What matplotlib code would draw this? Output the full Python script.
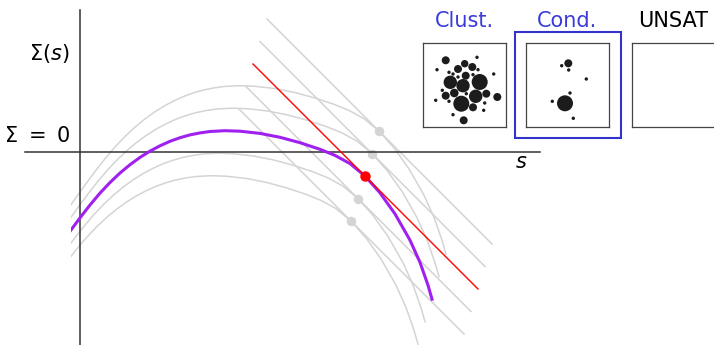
import matplotlib
matplotlib.use("Agg")
import matplotlib.pyplot as plt
from matplotlib.patches import Circle, Rectangle

plt.rcParams["font.family"] = ["DejaVu Sans"]
plt.rcParams["mathtext.fontset"] = "dejavusans"

# Complexity curve Σ(s) (purple one)
curve_s = [-0.23, -0.16, -0.09, 0.01, 0.10, 0.20, 0.30, 0.40, 0.50, 0.60, 0.70,
           0.80, 0.90, 1.00, 1.10, 1.20, 1.30, 1.45, 1.60, 1.80, 2.00, 2.20,
           2.40, 2.55, 2.70, 2.85, 3.00, 3.15, 3.30, 3.40, 3.48, 3.52]
curve_sigma = [-0.976, -0.878, -0.78, -0.645, -0.53, -0.411, -0.305, -0.21,
               -0.127, -0.054, 0.009, 0.062, 0.107, 0.143, 0.171, 0.191, 0.205,
               0.213, 0.208, 0.186, 0.147, 0.093, 0.027, -0.034, -0.116, -0.24,
               -0.409, -0.619, -0.882, -1.104, -1.332, -1.472]

# tangent point and tangent segment of the purple curve
tangent_pt = (2.85, -0.24)
tangent_s = [1.73, 3.98]
tangent_sigma = [0.88, -1.37]

# the gray curves are the same curve moved along the family
shift_s = [0.14, 0.07, -0.07, -0.14]
shift_sigma = [0.45, 0.225, -0.225, -0.45]

s_left = -0.09  # curves start here

# particles in the two pictures: x, y, radius (pixels inside the box)
clust_x = [22.7, 54, 41.7, 14, 35, 49.3, 26, 30, 42.7, 55, 50, 70.7, 27.3, 40,
           56.7, 35, 19.3, 22.7, 31.3, 43.3, 52.7, 63.3, 74.3, 12.7, 26, 38.3,
           50, 61.7, 30, 60.7, 40.7]
clust_y = [17.3, 14.3, 20.7, 26.7, 26, 24, 29.3, 31, 32.7, 26.7, 31.7, 31, 39.3,
           42.7, 39, 34, 47.3, 52.7, 50, 50.7, 53.3, 50.7, 54, 57.3, 58.3, 60.7,
           64.3, 60, 71.7, 67.3, 77.3]
clust_r = [4, 1.7, 3.7, 1.7, 4, 4, 1.7, 1.7, 4, 1.7, 1.7, 1.7, 6.7, 6.7, 8, 1.7,
           1.7, 4, 4.3, 1.7, 6.7, 4, 4, 1.7, 1.7, 8, 4, 1.7, 1.7, 1.7, 4]

cond_x = [42.3, 35.7, 42.7, 60.3, 44, 26.3, 39, 47.3]
cond_y = [20.3, 22.7, 27, 36, 50, 58.3, 60.3, 75.3]
cond_r = [4, 1.7, 1.7, 1.7, 1.7, 1.7, 8, 1.7]

phases = ["Clust.", "Cond.", "UNSAT"]
phase_colors = ["#3b3bdb", "#3b3bdb", "black"]

GRAY = "#d4d4d4"
W, H = 714, 345

fig = plt.figure(figsize=(W / 100, H / 100), dpi=100)
ax = fig.add_axes([0, 0, 1, 1])
ax.set_xlim(-0.80, 6.34)
ax.set_ylim(-1.93, 1.52)
ax.axis("off")

clip = Rectangle((s_left, -5), 20, 10, transform=ax.transData)

# axes of the sketch
ax.plot([-0.55, 4.6], [0, 0], color="#333333", lw=1.1, zorder=3)
ax.plot([0, 0], [1.42, -1.95], color="#333333", lw=1.1, zorder=3)

for ds, dv in zip(shift_s, shift_sigma):
    line, = ax.plot([x + ds for x in curve_s], [y + dv for y in curve_sigma],
                    color=GRAY, lw=1.1, zorder=1)
    line.set_clip_path(clip)
    ax.plot([x + ds for x in tangent_s], [y + dv for y in tangent_sigma],
            color=GRAY, lw=1.1, zorder=1)
    ax.plot(tangent_pt[0] + ds, tangent_pt[1] + dv, "o", color=GRAY, ms=5.8,
            zorder=2)

line, = ax.plot(curve_s, curve_sigma, color="#a020f0", lw=2.2, zorder=4)
line.set_clip_path(clip)
ax.plot(tangent_s, tangent_sigma, color="red", lw=1.0, zorder=5)
ax.plot(*tangent_pt, "o", color="red", ms=6.5, zorder=6)

ax.text(-0.10, 0.92, r"$\Sigma(s)$", fontsize=15, ha="right", va="baseline")
ax.text(-0.10, 0.10, r"$\Sigma\ =\ 0$", fontsize=15, ha="right", va="baseline")
ax.text(4.41, -0.16, r"$s$", fontsize=15, ha="center", va="baseline")

# the three little pictures
box_left = [423, 526, 632]
particles = [(clust_x, clust_y, clust_r), (cond_x, cond_y, cond_r), ([], [], [])]
for left, name, col, (px, py, pr) in zip(box_left, phases, phase_colors, particles):
    bx = fig.add_axes([left / W, (H - 127) / H, 83 / W, 84 / H])
    bx.set_xlim(0, 83)
    bx.set_ylim(84, 0)
    bx.set_xticks([])
    bx.set_yticks([])
    for sp in bx.spines.values():
        sp.set_color("#444444")
        sp.set_linewidth(0.9)
    for x, y, r in zip(px, py, pr):
        bx.add_patch(Circle((x, y), r, color="#1c1c1c", lw=0))
    bx.text(0.5, 1.19, name, transform=bx.transAxes, fontsize=15, color=col,
            ha="center", va="baseline")

fig.patches.append(Rectangle((515 / W, (H - 138) / H), 106 / W, 106 / H,
                             transform=fig.transFigure, fill=False,
                             edgecolor="#3333cc", lw=1.5))

fig.savefig("out.png", dpi=100)
